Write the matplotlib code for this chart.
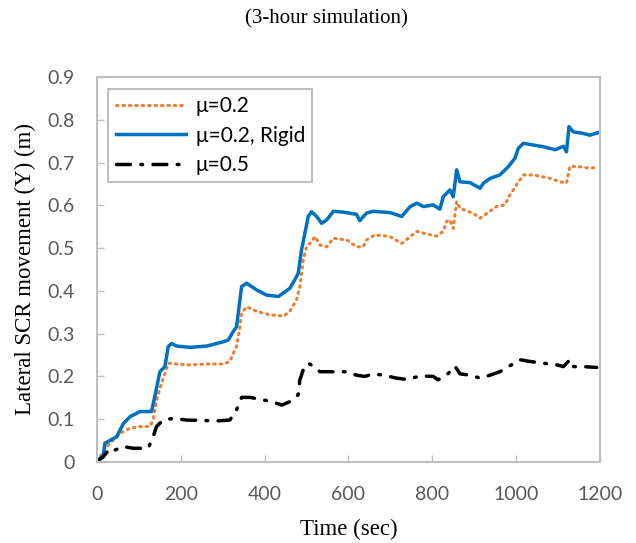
import matplotlib
matplotlib.use("Agg")
import matplotlib.pyplot as plt

t_rigid = [0, 15, 19, 47, 63, 79, 103, 130, 138, 150, 162, 170, 178, 190, 222, 262, 301, 313, 325, 333, 337, 345, 357, 381, 405, 433, 460, 472, 480, 488, 496, 504, 512, 524, 536, 548, 564, 588, 619, 627, 643, 659, 699, 727, 747, 763, 779, 802, 818, 826, 842, 850, 858, 866, 890, 914, 922, 938, 961, 981, 997, 1005, 1017, 1041, 1065, 1093, 1113, 1120, 1126, 1136, 1160, 1176, 1200]
y_rigid = [0.001, 0.016, 0.044, 0.059, 0.09, 0.106, 0.118, 0.118, 0.153, 0.211, 0.223, 0.27, 0.277, 0.271, 0.268, 0.271, 0.281, 0.285, 0.305, 0.316, 0.348, 0.41, 0.418, 0.402, 0.39, 0.387, 0.406, 0.426, 0.441, 0.496, 0.535, 0.574, 0.585, 0.574, 0.558, 0.566, 0.586, 0.584, 0.579, 0.564, 0.582, 0.586, 0.583, 0.574, 0.597, 0.605, 0.597, 0.601, 0.591, 0.62, 0.636, 0.62, 0.683, 0.655, 0.653, 0.64, 0.652, 0.663, 0.671, 0.69, 0.71, 0.733, 0.745, 0.741, 0.737, 0.73, 0.738, 0.725, 0.784, 0.772, 0.768, 0.764, 0.771]

t_02 = [0, 23, 55, 79, 103, 126, 134, 142, 154, 162, 170, 190, 222, 262, 301, 317, 325, 333, 341, 345, 357, 381, 413, 445, 460, 476, 484, 492, 500, 512, 520, 532, 548, 564, 596, 619, 635, 643, 663, 699, 727, 747, 763, 779, 810, 826, 834, 842, 850, 854, 858, 866, 898, 914, 930, 953, 973, 985, 1001, 1017, 1041, 1081, 1105, 1120, 1128, 1144, 1176, 1196]
y_02 = [0.001, 0.036, 0.067, 0.079, 0.083, 0.083, 0.098, 0.145, 0.184, 0.207, 0.231, 0.229, 0.227, 0.229, 0.229, 0.235, 0.254, 0.27, 0.316, 0.348, 0.363, 0.352, 0.344, 0.341, 0.352, 0.379, 0.41, 0.472, 0.504, 0.515, 0.527, 0.507, 0.503, 0.523, 0.519, 0.503, 0.503, 0.519, 0.531, 0.527, 0.511, 0.527, 0.539, 0.535, 0.528, 0.539, 0.562, 0.566, 0.546, 0.578, 0.609, 0.593, 0.581, 0.57, 0.581, 0.597, 0.601, 0.624, 0.648, 0.671, 0.671, 0.663, 0.655, 0.652, 0.691, 0.691, 0.687, 0.689]

t_05 = [0, 15, 31, 43, 63, 87, 122, 134, 142, 158, 182, 214, 254, 285, 317, 333, 345, 365, 397, 417, 441, 460, 480, 484, 496, 508, 532, 556, 596, 619, 639, 659, 683, 715, 739, 771, 802, 814, 838, 854, 866, 890, 914, 938, 961, 981, 997, 1009, 1033, 1065, 1097, 1113, 1128, 1136, 1160, 1192]
y_05 = [0.001, 0.012, 0.032, 0.028, 0.036, 0.032, 0.032, 0.059, 0.083, 0.098, 0.102, 0.098, 0.097, 0.096, 0.098, 0.122, 0.151, 0.151, 0.145, 0.141, 0.133, 0.141, 0.157, 0.192, 0.227, 0.229, 0.211, 0.211, 0.211, 0.203, 0.2, 0.206, 0.203, 0.196, 0.193, 0.201, 0.2, 0.192, 0.207, 0.224, 0.206, 0.203, 0.196, 0.203, 0.211, 0.223, 0.231, 0.239, 0.235, 0.231, 0.227, 0.223, 0.239, 0.223, 0.223, 0.221]

x_ticks = [0, 200, 400, 600, 800, 1000, 1200]
y_ticks = [0, 0.1, 0.2, 0.3, 0.4, 0.5, 0.6, 0.7, 0.8, 0.9]

fig = plt.figure(figsize=(6.36, 5.43), dpi=100)
ax = fig.add_axes([0.1525, 0.1492, 0.7909, 0.709])

ax.plot(t_02, y_02, color="#ED7D31", lw=2.2, linestyle=(0, (0.5, 1.6)), dash_capstyle="round", label="μ=0.2")
ax.plot(t_rigid, y_rigid, color="#0070C0", lw=2.5, label="μ=0.2, Rigid")
ax.plot(t_05, y_05, color="black", lw=2.5, linestyle=(0, (4, 3, 0.5, 3)), dash_capstyle="round", label="μ=0.5")

ax.set_xlim(0, 1200)
ax.set_ylim(0, 0.9)
ax.set_xticks(x_ticks)
ax.set_yticks(y_ticks)
ax.set_xticklabels([str(v) for v in x_ticks])
ax.set_yticklabels(["0"] + [f"{v:.1f}" for v in y_ticks[1:]])

for s in ax.spines.values():
    s.set_color("#BFBFBF")
    s.set_linewidth(1.5)
ax.tick_params(direction="in", length=5, width=1, color="#BFBFBF", labelcolor="#595959", labelsize=14)
ax.tick_params(axis="x", pad=17)
ax.tick_params(axis="y", pad=16)
for lbl in ax.get_xticklabels() + ax.get_yticklabels():
    lbl.set_fontfamily("Lato")

ax.set_xlabel("Time (sec)", family="Liberation Serif", fontsize=16.5, labelpad=12)
ax.set_ylabel("Lateral SCR movement (Y) (m)", family="Liberation Serif", fontsize=16.5, labelpad=8)
fig.text(0.513, 0.965, "(3-hour simulation)", family="Liberation Serif", fontsize=15, ha="center", va="center")

leg = ax.legend(loc="upper left", bbox_to_anchor=(0.01, 0.985), prop={"family": "Lato", "size": 15},
                fancybox=False, framealpha=1, edgecolor="#BFBFBF", handlelength=3.4, handletextpad=0.45,
                borderpad=0.35, labelspacing=0.45, borderaxespad=0.3)
leg.get_frame().set_linewidth(1.5)

fig.savefig("out.png", dpi=100)
